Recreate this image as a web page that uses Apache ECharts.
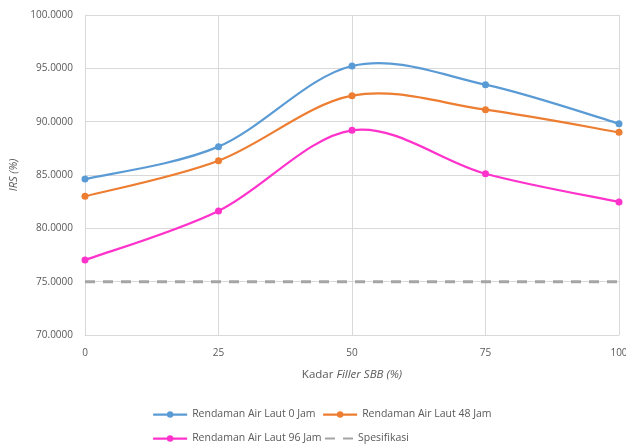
<!DOCTYPE html>
<html>
<head>
<meta charset="utf-8">
<script src="https://cdn.jsdelivr.net/npm/echarts@6/dist/echarts.min.js"></script>
<style>
  html, body { margin: 0; padding: 0; background: #fff; }
  #chart { width: 626px; height: 445px; }
</style>
</head>
<body>
<div id="chart"></div>
<script>
// Filler content (%) on the x axis
const fillerLevels = [0, 25, 50, 75, 100];

// IRS (%) per immersion duration
const irs0Jam  = [84.62, 87.66, 95.22, 93.47, 89.81];
const irs48Jam = [83.00, 86.34, 92.44, 91.12, 89.00];
const irs96Jam = [77.03, 81.63, 89.19, 85.12, 82.47];
// Minimum specification
const spesifikasi = [75, 75, 75, 75, 75];

const seriesNames = [
  'Rendaman Air Laut 0 Jam',
  'Rendaman Air Laut 48 Jam',
  'Rendaman Air Laut 96 Jam',
  'Spesifikasi'
];
const colors = ['#5B9BD5', '#ED7D31', '#FF33CC', '#A5A5A5'];

const FONT = "'Open Sans', 'Liberation Sans', sans-serif";
const TXT = '#595959';
const GRID = '#D9D9D9';
const LINE_W = 2.25;

const pairs = (ys) => fillerLevels.map((x, i) => [x, ys[i]]);

// Markers + legend entry; the connecting stroke itself is drawn by curveSeries.
function markerSeries(name, ys, color) {
  return {
    name: name,
    type: 'line',
    data: pairs(ys),
    symbol: 'circle',
    symbolSize: 7,
    itemStyle: { color: color },
    lineStyle: { color: color, width: LINE_W, opacity: 0 },
    emphasis: { disabled: true },
    z: 3
  };
}

// Cardinal (Catmull-Rom style) spline through the points, one bezier per segment,
// positioned through the axes with api.coord.
function curveSeries(name, ys, color) {
  const pts = pairs(ys);
  return {
    name: name,
    type: 'custom',
    data: pts,
    silent: true,
    clip: false,
    z: 2,
    renderItem: function (params, api) {
      const i = params.dataIndex;
      if (i >= pts.length - 1) return null;
      const p = pts.map((d) => api.coord(d));
      const p0 = p[Math.max(i - 1, 0)];
      const p1 = p[i];
      const p2 = p[i + 1];
      const p3 = p[Math.min(i + 2, p.length - 1)];
      const k = 1 / 6;
      return {
        type: 'bezierCurve',
        shape: {
          x1: p1[0], y1: p1[1],
          cpx1: p1[0] + (p2[0] - p0[0]) * k,
          cpy1: p1[1] + (p2[1] - p0[1]) * k,
          cpx2: p2[0] - (p3[0] - p1[0]) * k,
          cpy2: p2[1] - (p3[1] - p1[1]) * k,
          x2: p2[0], y2: p2[1]
        },
        style: { stroke: color, lineWidth: LINE_W, fill: null, lineCap: 'round' }
      };
    }
  };
}

function legendAt(name, color, left, top, isDash) {
  const item = { name: name };
  if (!isDash) {
    item.lineStyle = { color: color, width: LINE_W, opacity: 1 };
  } else {
    item.itemStyle = { opacity: 0 };
  }
  return {
    data: [item],
    left: left,
    top: top,
    padding: 0,
    itemWidth: isDash ? 28 : 34,
    itemHeight: 8,
    textStyle: { color: TXT, fontSize: 10.5, fontFamily: FONT },
    selectedMode: false
  };
}

const chart = echarts.init(document.getElementById('chart'), null, { renderer: 'canvas' });

chart.setOption({
  animation: false,
  color: colors,
  grid: { left: 85, right: 7, top: 15, bottom: 110, outerBoundsMode: 'none', containLabel: false },
  xAxis: {
    type: 'value',
    min: 0,
    max: 100,
    interval: 25,
    name: 'Kadar {i|Filler SBB (%)}',
    nameLocation: 'middle',
    nameGap: 34,
    nameTextStyle: {
      color: TXT, fontSize: 11.5, fontFamily: FONT,
      rich: { i: { fontStyle: 'italic', color: TXT, fontSize: 11.5, fontFamily: FONT } }
    },
    axisLine: { show: true, lineStyle: { color: GRID, width: 1 } },
    axisTick: { show: false },
    axisLabel: { color: TXT, fontSize: 10, fontFamily: FONT, margin: 13 },
    splitLine: { show: true, lineStyle: { color: GRID, width: 1 } }
  },
  yAxis: {
    type: 'value',
    min: 70,
    max: 100,
    interval: 5,
    name: 'IRS (%)',
    nameLocation: 'middle',
    nameGap: 58,
    nameTextStyle: { color: TXT, fontSize: 11, fontFamily: FONT, fontStyle: 'italic' },
    axisLine: { show: false },
    axisTick: { show: false },
    axisLabel: {
      color: TXT, fontSize: 10, fontFamily: FONT, margin: 12,
      formatter: (v) => v.toFixed(4)
    },
    splitLine: { show: true, lineStyle: { color: GRID, width: 1 } }
  },
  legend: [
    legendAt(seriesNames[0], colors[0], 152, 409, false),
    legendAt(seriesNames[1], colors[1], 322, 409, false),
    legendAt(seriesNames[2], colors[2], 152, 433, false),
    legendAt(seriesNames[3], colors[3], 324, 433, true)
  ],
  series: [
    markerSeries(seriesNames[0], irs0Jam, colors[0]),
    markerSeries(seriesNames[1], irs48Jam, colors[1]),
    markerSeries(seriesNames[2], irs96Jam, colors[2]),
    {
      name: seriesNames[3],
      type: 'line',
      data: pairs(spesifikasi),
      symbol: 'none',
      itemStyle: { color: colors[3] },
      lineStyle: { color: colors[3], width: 3, type: [10, 8] },
      emphasis: { disabled: true },
      z: 1
    },
    curveSeries(seriesNames[0], irs0Jam, colors[0]),
    curveSeries(seriesNames[1], irs48Jam, colors[1]),
    curveSeries(seriesNames[2], irs96Jam, colors[2])
  ]
});
</script>
</body>
</html>
